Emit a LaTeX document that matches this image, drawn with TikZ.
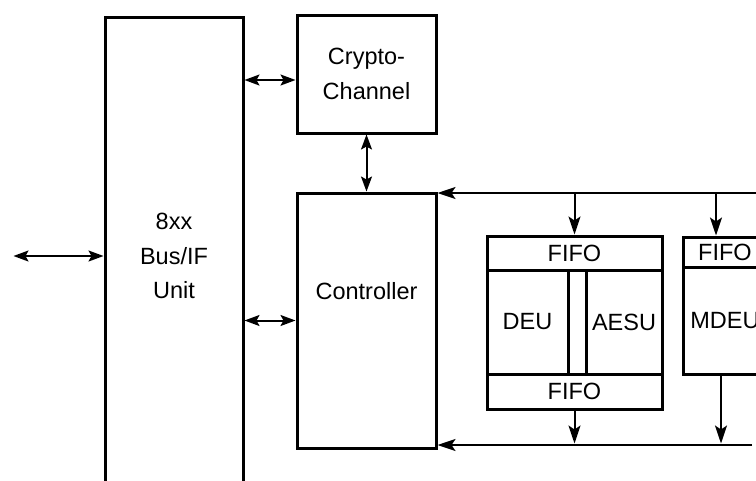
\documentclass[tikz,border=0pt]{standalone}
\usepackage{fontspec}
\setmainfont{Liberation Sans}
\usetikzlibrary{positioning, arrows.meta}

\begin{document}
\begin{tikzpicture}[
    x=1pt, y=-1pt,
    every node/.style={inner sep=0pt, outer sep=0pt, align=center, font=\fontsize{23.5}{34.5}\selectfont},
    unit/.style={draw, line width=3pt},
    fifo/.style={unit, minimum height=34pt},
    arrow/.style={arrows={Stealth[length=15pt, width=11pt, inset=3pt]-Stealth[length=15pt, width=11pt, inset=3pt]}, line width=2pt, shorten >=1.5pt, shorten <=1.5pt},
    busarrow/.style={arrows={-Stealth[length=18pt, width=12pt, inset=4pt]}, line width=2pt, shorten >=1.5pt}
]
\useasboundingbox (0,0) rectangle (756,480);
\clip (0,0) rectangle (756,480);

% Bus interface and channel (left column)
\node[unit, minimum width=138pt, minimum height=478pt, anchor=north west] (bus) at (105,17) {8xx\\Bus/IF\\Unit};
\node[unit, minimum width=139pt, minimum height=118pt, right=54pt of bus.north east, anchor=north west, yshift=2pt] (crypto) {Crypto-\\Channel};
\node[unit, minimum width=139pt, minimum height=255pt, below=60pt of crypto, label={[yshift=29.5pt]center:Controller}] (ctrl) {};

% Execution units (right side)
\node[fifo, minimum width=175pt, anchor=north west] (fifoa) at (487,236) {FIFO};
\node[unit, minimum width=81pt, minimum height=104pt, anchor=north west] (deu) at (fifoa.south west) {DEU};
\node[unit, minimum width=76pt, minimum height=104pt, anchor=north east] (aesu) at (fifoa.south east) {AESU};
\node[fifo, minimum width=175pt, minimum height=35pt, anchor=north west] (fifob) at (deu.south west) {FIFO};
\node[fifo, minimum width=84pt, minimum height=30pt, anchor=north west] (fifoc) at (683,237) {FIFO};
\node[unit, minimum width=84pt, minimum height=107pt, anchor=north west] (mdeu) at (fifoc.south west) {MDEU};

% Free ends and tap points
\coordinate (ext) at (12,256);
\coordinate (topend) at (760,193);
\coordinate (botend) at (752,445);
\coordinate (cryin) at ([yshift=-6pt]crypto.west);
\coordinate (mtop) at ([xshift=-9pt]fifoc.north);
\coordinate (mbot) at ([xshift=-4pt]mdeu.south);

% Two-way links
\draw[arrow] (ext) -- (bus.west);
\draw[arrow] (cryin) -- (cryin -| bus.east);
\draw[arrow] (crypto.south) -- (ctrl.north);
\draw[arrow] (ctrl.west) -- (ctrl.west -| bus.east);

% Top bus into the units
\draw[busarrow] (topend) -- (ctrl.north east);
\draw[busarrow] (fifoa.north |- topend) -- (fifoa.north);
\draw[busarrow] (mtop |- topend) -- (mtop);

% Bottom bus back to the controller
\draw[busarrow] (botend) -- (ctrl.east |- botend);
\draw[busarrow] (fifob.south) -- (fifob.south |- botend);
\draw[busarrow] (mbot) -- (mbot |- botend);

\end{tikzpicture}
\end{document}
